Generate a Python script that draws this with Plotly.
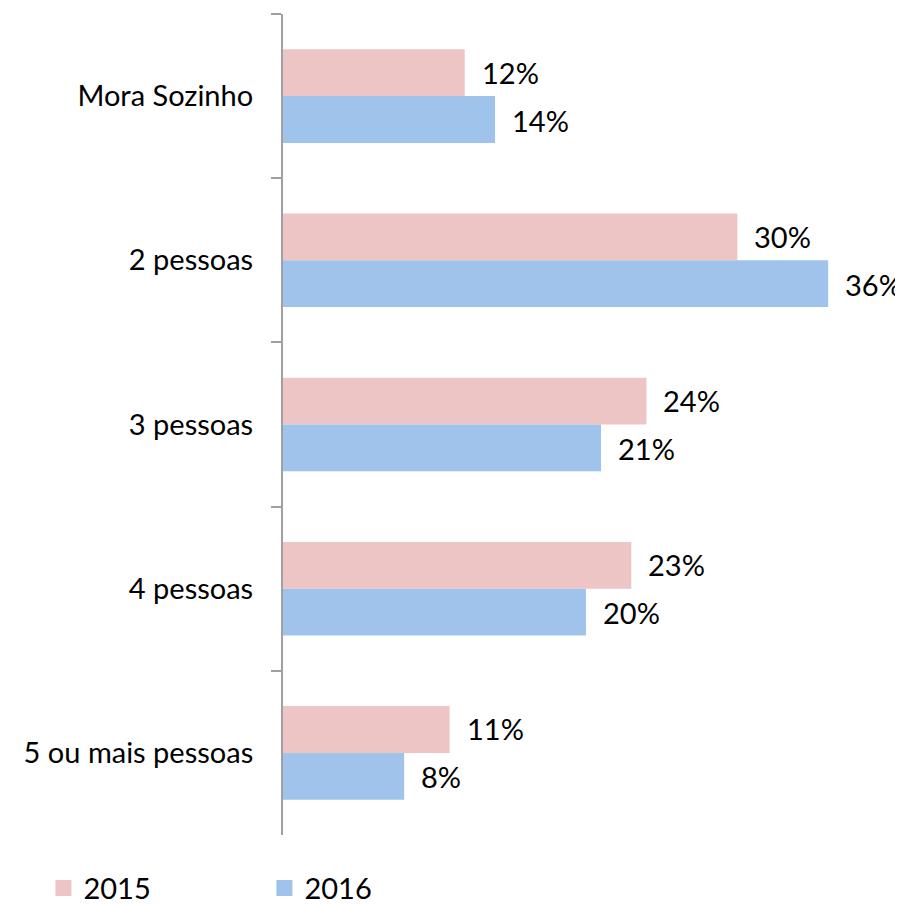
import plotly.graph_objects as go

categories = ["Mora Sozinho", "2 pessoas", "3 pessoas", "4 pessoas", "5 ou mais pessoas"]
values_2015 = [12, 30, 24, 23, 11]
values_2016 = [14, 36, 21, 20, 8]
series_names = ["2015", "2016"]
colors = ["#EDC5C4", "#9FC3EA"]

FONT = "Lato, 'Open Sans', sans-serif"
FS = 29

fig = go.Figure()
for name, vals, col in zip(series_names, [values_2015, values_2016], colors):
    fig.add_trace(go.Bar(
        y=categories, x=vals, name=name, orientation="h",
        marker=dict(color=col, line=dict(width=0)),
        showlegend=False,
    ))
# legend entries with larger square symbols
for name, col in zip(series_names, colors):
    fig.add_trace(go.Scatter(
        x=[None], y=[None], mode="markers", name=name,
        marker=dict(symbol="square", size=16, color=col),
        showlegend=True, hoverinfo="skip",
    ))

# data labels
for i, vals in enumerate([values_2015, values_2016]):
    for c, v in zip(categories, vals):
        fig.add_annotation(
            x=v, y=c, text=f"{v}%", showarrow=False,
            xanchor="left", xshift=15, yshift=(24 if i == 0 else -24),
            font=dict(family=FONT, size=FS, color="#000000"),
        )

fig.update_layout(
    width=895, height=896,
    margin=dict(l=275, r=15, t=6, b=69, autoexpand=False),
    paper_bgcolor="white", plot_bgcolor="white",
    barmode="group", bargap=0.43, bargroupgap=0,
    font=dict(family=FONT, size=FS, color="#000000"),
    showlegend=True,
    legend=dict(
        orientation="h", x=-0.396, xanchor="left", y=-0.0646, yanchor="middle",
        font=dict(family=FONT, size=FS, color="#000000"),
        entrywidth=176, entrywidthmode="pixels", itemsizing="trace",
        borderwidth=0,
        itemclick=False, itemdoubleclick=False,
    ),
    xaxis=dict(range=[0, 39.95], visible=False, fixedrange=True),
    yaxis=dict(
        autorange="reversed", type="category",
        showline=True, linecolor="#A0A0A0", linewidth=2,
        ticks="outside", tickson="boundaries", ticklen=10, tickwidth=2, tickcolor="#A0A0A0",
        ticklabelstandoff=22,
        showgrid=False, zeroline=False, fixedrange=True,
        tickfont=dict(family=FONT, size=FS, color="#000000"),
    ),
)

fig.write_html("out.html")
